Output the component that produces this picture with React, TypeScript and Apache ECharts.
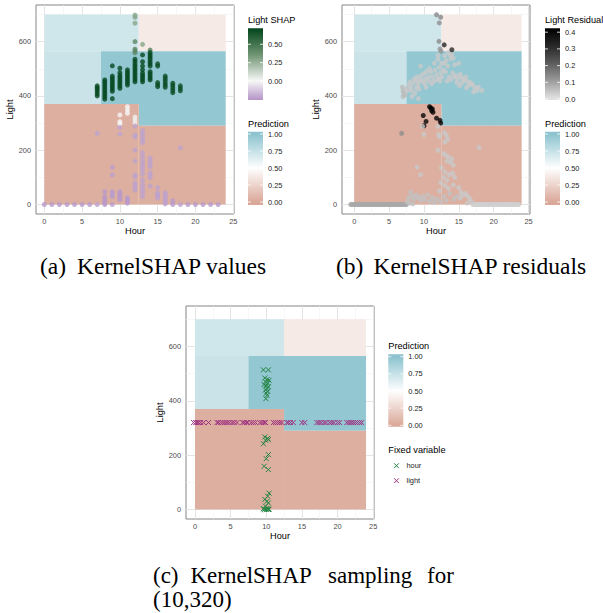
import React, { useEffect, useRef } from 'react';
import * as echarts from 'echarts';

const SANS = '"Liberation Sans", Arial, Helvetica, sans-serif';
const SERIF = '"Liberation Serif", "Times New Roman", serif';

// ---------- axis ticks ----------
const HOUR_TICKS = [0, 5, 10, 15, 20, 25];
const HOUR_MINOR = [2.5, 7.5, 12.5, 17.5, 22.5];
const LIGHT_TICKS = [0, 200, 400, 600];
const LIGHT_MINOR = [100, 300, 500, 700];
const SHAP_TICKS = [0, 0.25, 0.5];
const RESIDUAL_TICKS = [0, 0.1, 0.2, 0.3, 0.4];
const PREDICTION_TICKS = [0, 0.25, 0.5, 0.75, 1];

// ---------- colour scales ----------
const PRED_COLORS = ['#daa898', '#ffffff', '#8cc3cf']; // 0 .. 0.5 .. 1
const SHAP_COLORS = ['#5a2a73', '#9a6cb3', '#f7f7f7', '#6f9472', '#00441b']; // -0.72 .. 0.72
const SHAP_MIN = -0.72;
const SHAP_MAX = 0.72;
const RESID_COLORS = ['#e3e3e3', '#9e9e9e', '#5e5e5e', '#2a2a2a', '#000000']; // 0 .. 0.42
const RESID_MAX = 0.42;
const HOUR_COLOR = '#238443';
const LIGHT_COLOR = '#a03282';

// ---------- tree regions: [hourFrom, hourTo, lightFrom, lightTo, prediction] ----------
const regions = [
  [0, 12.5, 565, 700, 0.71],
  [12.5, 24, 565, 700, 0.38],
  [0, 7.5, 370, 565, 0.73],
  [7.5, 24, 370, 565, 0.97],
  [12.5, 24, 290, 370, 0.97],
  [0, 12.5, 0, 370, 0.04],
  [12.5, 24, 0, 290, 0.04],
];

// ---------- (a) KernelSHAP values: [hour, shap, lights[]] ----------
const shapGroups: [number, number, number[]][] = [
  [0, -0.24, [0]], [1, -0.24, [0]], [2, -0.24, [0]], [3, -0.24, [0]],
  [4, -0.24, [0]], [5, -0.24, [0]], [6, -0.24, [0]],
  [7, 0.7, [400, 408, 416, 424, 430, 437]], [7, -0.22, [262, 0]],
  [8, 0.7, [388, 396, 404, 412, 420, 428, 436, 444, 452, 459]], [8, -0.24, [0, 6, 12, 20, 29, 47]],
  [9, 0.7, [390, 417, 425, 433, 441, 449, 457, 465, 473, 511]], [9, -0.23, [0, 29, 36, 42, 47, 109, 137]],
  [10, 0.7, [428, 436, 444, 452, 460, 468, 476, 486, 502]], [10, 0.0, [297, 305, 330]],
  [10, -0.21, [259, 284]], [10, -0.24, [17, 24, 31, 39, 47]],
  [11, 0.7, [440, 448, 456, 464, 472, 480, 488, 496]], [11, 0.0, [336, 348, 360]], [11, -0.24, [5, 11, 18, 24]],
  [12, 0.3, [668, 690, 698]], [12, 0.42, [559, 566, 572, 600]],
  [12, 0.7, [452, 460, 468, 477, 485, 494, 502, 510, 518, 527, 535]], [12, 0.02, [300, 311, 322]],
  [12, -0.22, [53, 61, 70, 79, 101, 109, 160, 201, 249, 256, 289]],
  [13, 0.3, [590]], [13, 0.7, [452, 460, 468, 476, 484, 496, 510, 526, 551]],
  [13, -0.22, [29, 40, 51, 62, 74, 90, 112, 127, 138, 150, 164, 179, 191, 228, 239, 250, 261, 272]],
  [14, 0.45, [569]], [14, 0.7, [459, 466, 474, 482, 489, 510, 518, 526, 535, 543, 551, 559]],
  [14, -0.22, [68, 99, 108, 117, 139, 150, 161, 171]],
  [15, 0.68, [434, 441, 449, 510, 518]], [15, -0.22, [24, 31, 37, 43, 62]],
  [16, 0.68, [432, 440, 448, 457, 465, 473]], [16, -0.22, [2, 8, 15, 22, 29, 36, 43]],
  [17, 0.68, [412, 421, 430, 439, 447]], [17, -0.24, [0, 13]],
  [18, 0.68, [419, 428, 437]], [18, -0.22, [209, 0]],
  [19, -0.24, [0]], [20, -0.24, [0]], [21, -0.24, [0]], [22, -0.24, [0]], [23, -0.24, [0]],
];
const shapPoints: number[][] = [];
shapGroups.forEach(([h, s, ls]) => ls.forEach((l) => shapPoints.push([h, l, s])));

// ---------- (b) KernelSHAP residuals: [hour, light, residual] ----------
const residualZeroLeftHours = [-0.5, -0.3, -0.1, 0.1, 0.3, 0.5, 0.7, 0.9, 1.1, 1.3, 1.5, 1.7, 1.9, 2.1, 2.3,
  2.5, 2.7, 2.9, 3.1, 3.3, 3.5, 3.7, 3.9, 4.1, 4.3, 4.5, 4.7, 4.9, 5.1, 5.3, 5.5, 5.7, 5.9, 6.1, 6.3, 6.5,
  6.7, 6.9, 7.1, 7.3, 7.5];
const residualZeroRightHours = [17.0, 17.2, 17.4, 17.6, 17.8, 18.0, 18.2, 18.4, 18.6, 18.8, 19.0, 19.2, 19.4,
  19.6, 19.8, 20.0, 20.2, 20.4, 20.6, 20.8, 21.0, 21.2, 21.4, 21.6, 21.8, 22.0, 22.2, 22.4, 22.6, 22.8, 23.0,
  23.2, 23.4, 23.6];
const residualPoints: number[][] = [
  // arch
  [6.9, 432, 0.06], [7.0, 418, 0.06], [7.1, 410, 0.06], [7.3, 404, 0.06], [7.0, 398, 0.06], [7.4, 425, 0.05],
  [7.8, 440, 0.04], [8.0, 452, 0.04], [8.2, 420, 0.04], [8.4, 445, 0.04], [8.1, 430, 0.04], [8.6, 462, 0.04],
  [8.8, 455, 0.04], [8.3, 398, 0.04], [8.7, 410, 0.04], [7.6, 418, 0.04],
  [9.0, 470, 0.04], [9.2, 448, 0.04], [9.4, 460, 0.04], [9.1, 436, 0.04], [9.6, 475, 0.04], [9.8, 455, 0.04],
  [9.3, 425, 0.04], [9.2, 390, 0.04], [9.5, 510, 0.04], [8.9, 428, 0.04],
  [10.0, 482, 0.04], [10.2, 462, 0.04], [10.4, 490, 0.04], [10.1, 445, 0.04], [10.6, 470, 0.04],
  [10.8, 500, 0.04], [10.3, 432, 0.04], [10.7, 455, 0.04],
  [11.0, 488, 0.04], [11.2, 470, 0.04], [11.4, 455, 0.04], [11.6, 495, 0.04], [11.8, 478, 0.04],
  [11.1, 445, 0.04], [11.5, 520, 0.04], [11.9, 460, 0.04],
  [12.0, 535, 0.04], [12.2, 505, 0.04], [12.4, 485, 0.04], [12.1, 465, 0.04], [12.6, 470, 0.04],
  [12.8, 495, 0.04], [12.3, 455, 0.04], [12.0, 550, 0.04], [12.5, 520, 0.04],
  [13.0, 548, 0.04], [13.2, 530, 0.04], [13.4, 510, 0.04], [13.1, 488, 0.04], [13.6, 470, 0.04],
  [13.8, 460, 0.04], [13.3, 455, 0.04], [12.9, 520, 0.04], [13.5, 560, 0.04], [13.8, 548, 0.04], [13.9, 538, 0.04],
  [14.0, 555, 0.04], [14.2, 540, 0.04], [14.4, 515, 0.04], [14.1, 485, 0.04], [14.6, 475, 0.04],
  [14.8, 462, 0.04], [14.3, 470, 0.04], [14.7, 450, 0.04],
  [15.0, 520, 0.04], [15.2, 480, 0.04], [15.4, 448, 0.04], [15.1, 438, 0.04], [15.6, 462, 0.04],
  [15.8, 455, 0.04], [15.3, 470, 0.04],
  [16.0, 470, 0.04], [16.2, 455, 0.04], [16.4, 440, 0.04], [16.1, 430, 0.04], [16.6, 450, 0.04],
  [16.8, 445, 0.04], [17.0, 440, 0.04], [17.3, 430, 0.04], [17.6, 420, 0.04], [17.1, 415, 0.04],
  [18.3, 420, 0.04], [17.8, 432, 0.04],
  // top
  [11.8, 699, 0.14], [12.4, 690, 0.14], [12.2, 669, 0.13], [12.15, 601, 0.14], [12.9, 588, 0.32],
  [12.3, 573, 0.12], [12.45, 565, 0.12], [14.0, 570, 0.32],
  // black cluster
  [10.8, 360, 0.42], [11.0, 355, 0.42], [11.2, 352, 0.42], [11.3, 340, 0.41], [11.1, 345, 0.4],
  [9.9, 328, 0.4], [10.3, 306, 0.4], [10.0, 290, 0.4], [11.8, 318, 0.4], [12.3, 310, 0.4], [12.4, 300, 0.41],
  // lower
  [12.0, 288, 0.04], [12.1, 258, 0.04], [12.2, 250, 0.04], [12.9, 265, 0.04], [13.2, 255, 0.04],
  [13.0, 230, 0.04], [13.4, 240, 0.04], [10.0, 258, 0.04], [9.8, 288, 0.04],
  [12.0, 200, 0.04], [12.8, 188, 0.04], [13.1, 182, 0.04], [13.5, 175, 0.04], [13.3, 160, 0.04],
  [13.8, 155, 0.04], [14.0, 168, 0.04], [14.2, 145, 0.04],
  [12.5, 135, 0.04], [13.0, 120, 0.04], [13.6, 110, 0.04], [12.8, 100, 0.04], [13.3, 90, 0.04],
  [14.1, 115, 0.04], [14.4, 100, 0.04], [12.4, 80, 0.04], [13.0, 70, 0.04], [13.5, 60, 0.04],
  [14.2, 72, 0.04], [12.2, 50, 0.04],
  [9.0, 138, 0.04], [9.5, 110, 0.04],
  [15.0, 62, 0.04], [15.3, 45, 0.04], [15.6, 35, 0.04], [15.2, 25, 0.04], [16.0, 40, 0.04],
  [16.3, 30, 0.04], [16.6, 20, 0.04], [16.8, 10, 0.04], [16.2, 5, 0.04],
  [8.1, 45, 0.05], [8.3, 30, 0.05], [8.6, 20, 0.05], [8.9, 35, 0.05], [9.2, 25, 0.05], [9.5, 15, 0.05],
  [9.8, 30, 0.05], [10.1, 18, 0.05], [10.5, 35, 0.05], [10.8, 12, 0.05], [11.2, 25, 0.05], [11.5, 8, 0.05],
  [11.9, 20, 0.05], [12.4, 10, 0.05], [12.8, 30, 0.05], [13.2, 15, 0.05], [13.7, 40, 0.05], [14.3, 20, 0.05],
  [14.7, 30, 0.05], [7.6, 10, 0.05], [7.8, 25, 0.05], [8.0, 5, 0.05], [8.4, 2, 0.05],
  [17.9, 210, 0.04], [6.8, 262, 0.13],
];
residualZeroLeftHours.forEach((h) => residualPoints.unshift([h, 0, 0.09]));
residualZeroRightHours.forEach((h) => residualPoints.unshift([h, 0, 0.03]));

// ---------- (c) KernelSHAP sampling for (10, 320) ----------
const hourFixed = [
  [9.6, 514], [10.3, 514], [9.8, 484], [10.1, 478], [10.4, 476], [9.9, 470], [10.2, 465], [9.7, 460],
  [10.0, 455], [10.3, 452], [10.1, 445], [9.9, 440], [10.2, 435], [10.0, 428], [10.1, 420], [9.95, 408],
  [9.8, 267], [10.2, 262], [10.3, 257], [9.9, 255], [9.6, 242], [10.3, 202], [10.0, 187], [9.7, 159],
  [10.3, 147], [10.4, 60], [10.2, 49], [9.8, 37], [10.1, 30], [10.3, 24], [9.9, 12], [9.6, 3], [9.8, 1],
  [10.0, 0], [10.2, 2], [10.4, 1], [9.7, 0], [10.1, 4], [10.3, 0],
];
const lightFixedHours = [-0.2, 0.1, 0.3, 0.5, 0.8, 1.2, 1.9, 3.1, 3.3, 3.6, 3.9, 4.2, 4.5, 4.8, 5.2, 5.5,
  5.9, 6.7, 6.9, 7.2, 7.4, 7.9, 8.2, 8.5, 9.1, 9.4, 9.7, 9.9, 11.0, 11.3, 11.6, 11.9, 12.2, 12.9, 13.1, 13.4,
  13.8, 15.0, 15.4, 17.1, 17.4, 17.7, 18.1, 18.4, 18.9, 19.2, 19.5, 20.0, 20.3, 21.3, 21.6, 21.9, 22.2, 22.5,
  22.8, 23.1, 23.4];
const FIXED_LIGHT = 320;
const lightFixed = lightFixedHours.map((h) => [h, FIXED_LIGHT]);

// ---------- layout ----------
const panels = [
  { left: 36, top: 5, width: 198, height: 209, xMin: -1.1, xMax: 25.1, yMin: -35, yMax: 735, yNameGap: 19 },
  { left: 342, top: 5, width: 188, height: 209, xMin: -1.75, xMax: 25.2, yMin: -35, yMax: 735, yNameGap: 17 },
  { left: 186, top: 306, width: 188, height: 213, xMin: -1.26, xMax: 25.12, yMin: -35, yMax: 749, yNameGap: 19 },
];

const clamp01 = (t: number) => Math.max(0, Math.min(1, t));
const predColor = (v: number) => echarts.color.lerp(clamp01(v), PRED_COLORS) as string;
const shapColor = (v: number) => echarts.color.lerp(clamp01((v - SHAP_MIN) / (SHAP_MAX - SHAP_MIN)), SHAP_COLORS) as string;
const residColor = (v: number) => echarts.color.lerp(clamp01(v / RESID_MAX), RESID_COLORS) as string;

const CROSS = 'path://M0,0L10,10M10,0L0,10';
const LABEL_GRAY = '#4d4d4d';

function textEl(x: number, y: number, text: string, size: number, fill: string, family = SANS, align = 'left') {
  return {
    type: 'text', x, y, silent: true, z: 10,
    style: {
      text, fontSize: size, fontFamily: family, fill,
      align, textAlign: align, verticalAlign: 'middle', textVerticalAlign: 'middle',
    },
  };
}

function colorbar(x: number, top: number, bottom: number, yOf: (v: number) => number,
  colorAt: (v: number) => string, ticks: number[], digits: number) {
  const t0 = ticks[0];
  const t1 = ticks[ticks.length - 1];
  const perPx = (t1 - t0) / (yOf(t0) - yOf(t1));
  const vTop = t0 + (yOf(t0) - top) * perPx;
  const vBot = t0 - (bottom - yOf(t0)) * perPx;
  const stops: any[] = [];
  for (let k = 0; k <= 30; k++) {
    const t = k / 30;
    stops.push({ offset: t, color: colorAt(vTop + (vBot - vTop) * t) });
  }
  const els: any[] = [{
    type: 'rect', silent: true, z: 10,
    shape: { x, y: top, width: 15, height: bottom - top },
    style: { fill: { type: 'linear', x: 0, y: 0, x2: 0, y2: 1, colorStops: stops } },
  }];
  ticks.forEach((v) => {
    const y = yOf(v);
    els.push({ type: 'line', silent: true, z: 11, shape: { x1: x, y1: y, x2: x + 3, y2: y }, style: { stroke: '#ffffff', lineWidth: 0.8 } });
    els.push({ type: 'line', silent: true, z: 11, shape: { x1: x + 12, y1: y, x2: x + 15, y2: y }, style: { stroke: '#ffffff', lineWidth: 0.8 } });
    els.push(textEl(x + 20, y, v.toFixed(digits), 7.4, '#222'));
  });
  return els;
}

function crossEl(cx: number, cy: number, color: string) {
  const r = 2.4;
  return [
    { type: 'line', silent: true, z: 10, shape: { x1: cx - r, y1: cy - r, x2: cx + r, y2: cy + r }, style: { stroke: color, lineWidth: 1 } },
    { type: 'line', silent: true, z: 10, shape: { x1: cx - r, y1: cy + r, x2: cx + r, y2: cy - r }, style: { stroke: color, lineWidth: 1 } },
  ];
}

export default function App() {
  const ref = useRef<HTMLDivElement>(null);

  useEffect(() => {
    document.body.style.margin = '0';
    if (!ref.current) return;
    const chart = echarts.init(ref.current, null, { renderer: 'svg' });

    const grid = panels.map((p) => ({
      left: p.left, top: p.top, width: p.width, height: p.height,
      show: true, borderColor: '#858585', borderWidth: 1, backgroundColor: '#ffffff', containLabel: false,
    }));

    const xAxis = panels.map((p, i) => ({
      type: 'value', gridIndex: i, min: p.xMin, max: p.xMax,
      name: 'Hour', nameLocation: 'middle', nameGap: 12,
      nameTextStyle: { fontSize: 9.2, color: '#000', fontFamily: SANS },
      axisLine: { show: false, lineStyle: { color: '#333' } }, splitLine: { show: false },
      axisTick: { show: true, length: 3, lineStyle: { color: '#333', width: 1 }, customValues: HOUR_TICKS },
      axisLabel: { customValues: HOUR_TICKS, fontSize: 7.4, color: LABEL_GRAY, margin: 4, fontFamily: SANS },
    }));

    const yAxis = panels.map((p, i) => ({
      type: 'value', gridIndex: i, min: p.yMin, max: p.yMax,
      name: 'Light', nameLocation: 'middle', nameGap: p.yNameGap, nameRotate: 90,
      nameTextStyle: { fontSize: 9.2, color: '#000', fontFamily: SANS },
      axisLine: { show: false, lineStyle: { color: '#333' } }, splitLine: { show: false },
      axisTick: { show: true, length: 3, lineStyle: { color: '#333', width: 1 }, customValues: LIGHT_TICKS },
      axisLabel: { customValues: LIGHT_TICKS, fontSize: 7.4, color: LABEL_GRAY, margin: 5, fontFamily: SANS },
    }));

    const major = { color: '#e4e4e4', width: 1, type: 'solid' };
    const minor = { color: '#f2f2f2', width: 0.6, type: 'solid' };
    const gridLineSeries = panels.map((_, i) => ({
      type: 'line', xAxisIndex: i, yAxisIndex: i, data: [], z: 1, silent: true,
      markLine: {
        z: 1, silent: true, symbol: ['none', 'none'], label: { show: false }, animation: false,
        emphasis: { disabled: true },
        data: [
          ...HOUR_MINOR.map((v) => ({ xAxis: v, lineStyle: minor })),
          ...LIGHT_MINOR.map((v) => ({ yAxis: v, lineStyle: minor })),
          ...HOUR_TICKS.map((v) => ({ xAxis: v, lineStyle: major })),
          ...LIGHT_TICKS.map((v) => ({ yAxis: v, lineStyle: major })),
        ],
      },
    }));

    const regionSeries = panels.map((_, i) => ({
      type: 'custom', xAxisIndex: i, yAxisIndex: i, z: 3, silent: true,
      data: regions, encode: { x: [0, 1], y: [2, 3] },
      renderItem: (params: any, api: any) => {
        const a = api.coord([api.value(0), api.value(3)]);
        const b = api.coord([api.value(1), api.value(2)]);
        return {
          type: 'rect',
          shape: { x: a[0], y: a[1], width: b[0] - a[0], height: b[1] - a[1] },
          style: { fill: predColor(api.value(4)) },
        };
      },
    }));

    const series: any[] = [
      ...gridLineSeries, // 0,1,2
      ...regionSeries, // 3,4,5
      { type: 'scatter', xAxisIndex: 0, yAxisIndex: 0, z: 4, silent: true, symbolSize: 5, data: shapPoints }, // 6
      { type: 'scatter', xAxisIndex: 1, yAxisIndex: 1, z: 4, silent: true, symbolSize: 5, data: residualPoints }, // 7
      {
        type: 'scatter', xAxisIndex: 2, yAxisIndex: 2, z: 4, silent: true, symbol: CROSS, symbolSize: 5,
        data: hourFixed, itemStyle: { color: 'rgba(0,0,0,0)', borderColor: HOUR_COLOR, borderWidth: 1, opacity: 1 },
      },
      {
        type: 'scatter', xAxisIndex: 2, yAxisIndex: 2, z: 4, silent: true, symbol: CROSS, symbolSize: 5,
        data: lightFixed, itemStyle: { color: 'rgba(0,0,0,0)', borderColor: LIGHT_COLOR, borderWidth: 1, opacity: 1 },
      },
    ];

    const graphics: any[] = [
      textEl(248, 19.5, 'Light SHAP', 9.2, '#000'),
      ...colorbar(248, 28.3, 100, (v) => 81 - v * 73.4, shapColor, SHAP_TICKS.slice().reverse(), 2),
      textEl(248, 123.7, 'Prediction', 9.2, '#000'),
      ...colorbar(248, 131.7, 205, (v) => 202 - v * 68, predColor, PREDICTION_TICKS.slice().reverse(), 2),
      textEl(545, 19.5, 'Light Residual', 9.2, '#000'),
      ...colorbar(545, 28.3, 100, (v) => 99 - v * 167, residColor, RESIDUAL_TICKS.slice().reverse(), 1),
      textEl(545, 123.7, 'Prediction', 9.2, '#000'),
      ...colorbar(545, 131.7, 205, (v) => 202 - v * 68, predColor, PREDICTION_TICKS.slice().reverse(), 2),
      textEl(388.3, 346, 'Prediction', 9.2, '#000'),
      ...colorbar(388.3, 354.3, 426.7, (v) => 425.3 - v * 68.6, predColor, PREDICTION_TICKS.slice().reverse(), 2),
      textEl(388.3, 450, 'Fixed variable', 9.2, '#000'),
      ...crossEl(396.5, 465.7, HOUR_COLOR),
      textEl(406.5, 465.7, 'hour', 7.4, '#222'),
      ...crossEl(396.5, 480.7, LIGHT_COLOR),
      textEl(406.5, 480.7, 'light', 7.4, '#222'),
      textEl(40, 266, '(a)', 23.5, '#000', SERIF),
      textEl(77, 266, 'KernelSHAP values', 23.5, '#000', SERIF),
      textEl(336, 266, '(b)', 23.5, '#000', SERIF),
      textEl(373.5, 266, 'KernelSHAP residuals', 23.5, '#000', SERIF),
      textEl(153, 575, '(c)', 23, '#000', SERIF),
      textEl(190.5, 575, 'KernelSHAP', 23, '#000', SERIF),
      textEl(328, 575, 'sampling', 23, '#000', SERIF),
      textEl(427, 575, 'for', 23, '#000', SERIF),
      textEl(153, 599, '(10,320)', 23, '#000', SERIF),
    ];

    chart.setOption({
      animation: false,
      backgroundColor: '#ffffff',
      textStyle: { fontFamily: SANS },
      grid, xAxis, yAxis, series,
      visualMap: [
        { type: 'continuous', show: false, seriesIndex: 6, dimension: 2, min: SHAP_MIN, max: SHAP_MAX, inRange: { color: SHAP_COLORS } },
        { type: 'continuous', show: false, seriesIndex: 7, dimension: 2, min: 0, max: RESID_MAX, inRange: { color: RESID_COLORS } },
      ],
      graphic: { elements: graphics },
    });

    return () => chart.dispose();
  }, []);

  return <div ref={ref} style={{ width: 603, height: 613 }} />;
}
